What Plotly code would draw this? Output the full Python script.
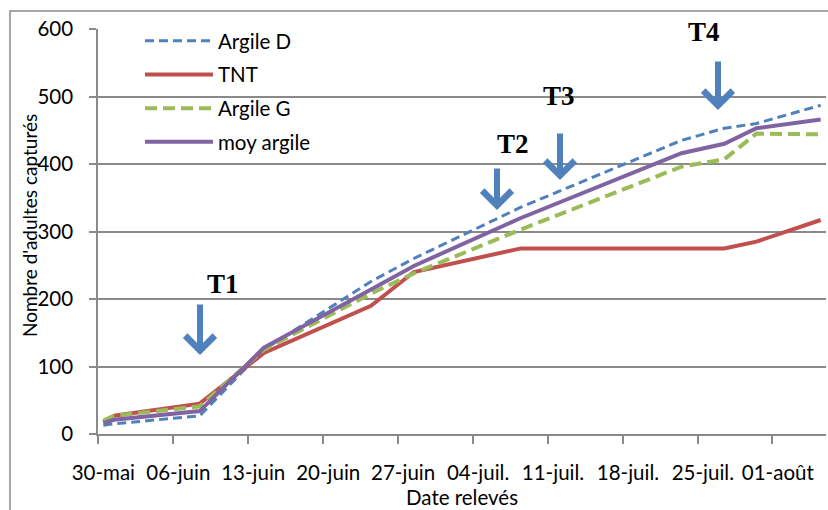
import plotly.graph_objects as go

# ---------------- data ----------------
dates = ["2013-05-30", "2013-05-31", "2013-06-08", "2013-06-14", "2013-06-24",
         "2013-06-28", "2013-07-08", "2013-07-23", "2013-07-27", "2013-07-30",
         "2013-08-05"]
argile_d = [13, 15, 27, 125, 226, 260, 336, 435, 453, 460, 487]
tnt = [18, 27, 45, 120, 190, 240, 275, 275, 275, 285, 317]
argile_g = [20, 27, 41, 125, 208, 238, 303, 396, 407, 445, 444]
moy_argile = [16, 21, 34, 128, 214, 249, 320, 416, 430, 453, 466]

tick_dates = ["2013-05-30", "2013-06-06", "2013-06-13", "2013-06-20", "2013-06-27",
              "2013-07-04", "2013-07-11", "2013-07-18", "2013-07-25", "2013-08-01"]
tick_labels = ["30-mai", "06-juin", "13-juin", "20-juin", "27-juin",
               "04-juil.", "11-juil.", "18-juil.", "25-juil.", "01-août"]

treatments = ["T1", "T2", "T3", "T4"]

# ---------------- layout geometry (pixels) ----------------
W, H = 828, 510
L, R, T, B = 98, 826, 29, 434


def px(x):
    return (x - L) / (R - L)


def py(y):
    return (B - y) / (B - T)


FONT = "Lato, Calibri, Carlito, sans-serif"
FS = 20.5
GRID = "#8a8a8a"

fig = go.Figure()
series = [
    ("Argile D", argile_d, "#4f81bd", 3, "9px,5px"),
    ("TNT", tnt, "#c0504d", 4, "solid"),
    ("Argile G", argile_g, "#9bbb59", 4, "12px,6px"),
    ("moy argile", moy_argile, "#8064a2", 4, "solid"),
]
for name, vals, col, w, dash in series:
    fig.add_trace(go.Scatter(x=dates, y=vals, name=name, mode="lines",
                             legendgroup=name,
                             line=dict(color=col, width=w, dash=dash)))

# arrows (tip x, tip y, top y) and labels (center x, center y)
arrows = [(200, 358, 303), (497, 213, 167), (560, 183, 132), (718, 113, 60)]
labels = [(223, 284), (513, 144), (559, 96), (704, 32)]

annotations = []
for (ax_, tip, top), (lx, ly), t in zip(arrows, labels, treatments):
    annotations.append(dict(xref="paper", yref="paper", x=px(ax_), y=py(tip - 3),
                            ax=0, ay=-(tip - 3 - top), text="", showarrow=True,
                            arrowhead=4, arrowwidth=6, arrowsize=0.95,
                            arrowcolor="#4f81bd", standoff=0))
    annotations.append(dict(xref="paper", yref="paper", x=px(lx), y=py(ly),
                            text="<b>%s</b>" % t, showarrow=False,
                            xanchor="center", yanchor="middle",
                            font=dict(family="Liberation Serif, serif", size=27,
                                      color="black")))

annotations.append(dict(xref="paper", yref="paper", x=0.5, y=py(497),
                        text="Date relevés", showarrow=False,
                        xanchor="center", yanchor="middle",
                        font=dict(family=FONT, size=FS, color="black")))
annotations.append(dict(xref="paper", yref="paper", x=px(30), y=py(226),
                        text="Nombre d'adultes capturés", showarrow=False,
                        textangle=-90, xanchor="center", yanchor="middle",
                        font=dict(family=FONT, size=19, color="black")))

shapes = [dict(type="rect", xref="paper", yref="paper",
               x0=px(10), y0=py(11), x1=px(900), y1=py(600),
               line=dict(color=GRID, width=1.5), layer="below")]

fig.update_layout(
    width=W, height=H,
    margin=dict(l=L, r=W - R, t=T, b=H - B, pad=0),
    paper_bgcolor="white", plot_bgcolor="white",
    font=dict(family=FONT, size=FS, color="black"),
    showlegend=True,
    legend=dict(x=px(140), y=py(21), xanchor="left", yanchor="top",
                bgcolor="rgba(0,0,0,0)", borderwidth=0,
                itemwidth=68, tracegroupgap=4,
                font=dict(family=FONT, size=FS, color="black")),
    annotations=annotations,
    shapes=shapes,
    xaxis=dict(type="date", range=["2013-05-29 12:00", "2013-08-05 12:00"],
               tickvals=tick_dates, ticktext=tick_labels, ticks="",
               showgrid=False, showline=True, linecolor=GRID, linewidth=1.5,
               ticklabelstandoff=20, zeroline=False,
               tickfont=dict(family=FONT, size=FS, color="black"),
               minor=dict(tick0="2013-05-29 12:00", dtick=7 * 86400000,
                          ticks="outside", ticklen=8, tickcolor=GRID,
                          tickwidth=1.5, showgrid=False)),
    yaxis=dict(range=[0, 600], dtick=100, tick0=0, showgrid=True,
               gridcolor=GRID, gridwidth=1.5, showline=True, linecolor=GRID,
               linewidth=1.5, ticks="outside", ticklen=7, tickcolor=GRID,
               tickwidth=1.5, zeroline=False, ticklabelstandoff=12,
               tickfont=dict(family=FONT, size=FS, color="black")),
)

fig.write_html("out.html")
